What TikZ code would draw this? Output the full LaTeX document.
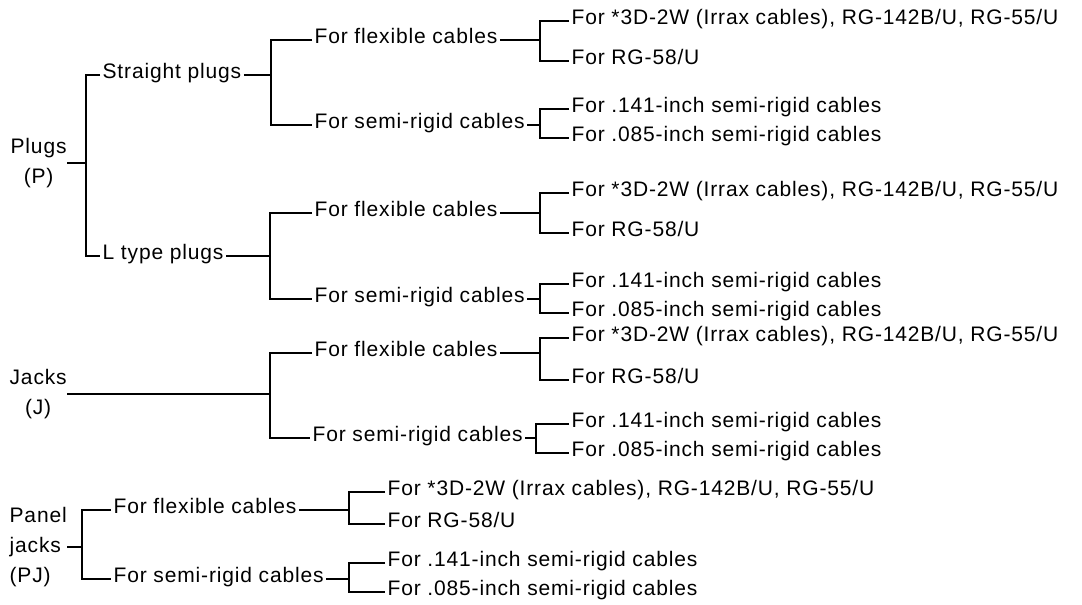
\documentclass[tikz,border=0pt]{standalone}
\usepackage{fontspec}
\setmainfont[LetterSpace=4]{Liberation Sans}

\begin{document}
\begin{tikzpicture}[x=1pt,y=-1pt,line width=1.3pt,
    every node/.style={font=\fontsize{21}{30}\selectfont},
    lbl/.style={anchor=west,inner xsep=2pt,inner ysep=0pt,text height=.72em,text depth=0pt},
    grp/.style={anchor=west,inner sep=0pt}]
          \useasboundingbox (0,0) rectangle (1082,605);

          \coordinate (xP) at (86,0);
          \coordinate (xSP) at (271,0);
          \coordinate (xLP) at (270,0);
          \coordinate (xJ) at (270,0);
          \coordinate (xPJ) at (82,0);
          \coordinate (xLeaf) at (540,0);
          \coordinate (xJs) at (536,0);
          \coordinate (xPJLeaf) at (349,0);

          \node[grp,align=center] (P) at (10,163) {Plugs\\(P)};
          \node[lbl] (SP) at (100,75) {Straight plugs};
          \node[lbl] (LP) at (100,256) {L type plugs};

          \node[lbl] (SPf) at (312,40) {For flexible cables};
          \node[lbl] (SPs) at (312,125) {For semi-rigid cables};
          \node[lbl] (LPf) at (312,213) {For flexible cables};
          \node[lbl] (LPs) at (312,299) {For semi-rigid cables};

          \node[lbl] (SPf1) at (569,21) {For *3D-2W (Irrax cables), RG-142B/U, RG-55/U};
          \node[lbl] (SPf2) at (569,61) {For RG-58/U};
          \node[lbl] (SPs1) at (569,109) {For .141-inch semi-rigid cables};
          \node[lbl] (SPs2) at (569,138) {For .085-inch semi-rigid cables};
          \node[lbl] (LPf1) at (569,193) {For *3D-2W (Irrax cables), RG-142B/U, RG-55/U};
          \node[lbl] (LPf2) at (569,233) {For RG-58/U};
          \node[lbl] (LPs1) at (569,284) {For .141-inch semi-rigid cables};
          \node[lbl] (LPs2) at (569,313) {For .085-inch semi-rigid cables};

          \node[grp,align=center] (J) at (9,394) {Jacks\\(J)};
          \node[lbl] (Jf) at (312,353) {For flexible cables};
          \node[lbl] (Js) at (310,438) {For semi-rigid cables};
          \node[lbl] (Jf1) at (569,338) {For *3D-2W (Irrax cables), RG-142B/U, RG-55/U};
          \node[lbl] (Jf2) at (569,380) {For RG-58/U};
          \node[lbl] (Js1) at (569,424) {For .141-inch semi-rigid cables};
          \node[lbl] (Js2) at (569,453) {For .085-inch semi-rigid cables};

          \node[grp,align=left] (PJ) at (9,547) {Panel\\jacks\\(PJ)};
          \node[lbl] (PJf) at (111,510) {For flexible cables};
          \node[lbl] (PJs) at (111,579) {For semi-rigid cables};
          \node[lbl] (PJf1) at (385,492) {For *3D-2W (Irrax cables), RG-142B/U, RG-55/U};
          \node[lbl] (PJf2) at (385,524) {For RG-58/U};
          \node[lbl] (PJs1) at (385,563) {For .141-inch semi-rigid cables};
          \node[lbl] (PJs2) at (385,592) {For .085-inch semi-rigid cables};

          \draw (P.east) -- (P.east -| xP);
          \draw (SP.west) -- (SP.west -| xP) -- (LP.west -| xP) -- (LP.west);
          \draw (SP.east) -- (SP.east -| xSP);
          \draw (SPf.west) -- (SPf.west -| xSP) -- (SPs.west -| xSP) -- (SPs.west);
          \draw (LP.east) -- (LP.east -| xLP);
          \draw (LPf.west) -- (LPf.west -| xLP) -- (LPs.west -| xLP) -- (LPs.west);

          \draw (SPf.east) -- (SPf.east -| xLeaf);
          \draw (SPf1.west) -- (SPf1.west -| xLeaf) -- (SPf2.west -| xLeaf) -- (SPf2.west);
          \draw (SPs.east) -- (SPs.east -| xLeaf);
          \draw (SPs1.west) -- (SPs1.west -| xLeaf) -- (SPs2.west -| xLeaf) -- (SPs2.west);
          \draw (LPf.east) -- (LPf.east -| xLeaf);
          \draw (LPf1.west) -- (LPf1.west -| xLeaf) -- (LPf2.west -| xLeaf) -- (LPf2.west);
          \draw (LPs.east) -- (LPs.east -| xLeaf);
          \draw (LPs1.west) -- (LPs1.west -| xLeaf) -- (LPs2.west -| xLeaf) -- (LPs2.west);

          \draw (J.east) -- (J.east -| xJ);
          \draw (Jf.west) -- (Jf.west -| xJ) -- (Js.west -| xJ) -- (Js.west);
          \draw (Jf.east) -- (Jf.east -| xLeaf);
          \draw (Jf1.west) -- (Jf1.west -| xLeaf) -- (Jf2.west -| xLeaf) -- (Jf2.west);
          \draw (Js.east) -- (Js.east -| xJs);
          \draw (Js1.west) -- (Js1.west -| xJs) -- (Js2.west -| xJs) -- (Js2.west);

          \draw (PJ.east) -- (PJ.east -| xPJ);
          \draw (PJf.west) -- (PJf.west -| xPJ) -- (PJs.west -| xPJ) -- (PJs.west);
          \draw (PJf.east) -- (PJf.east -| xPJLeaf);
          \draw (PJf1.west) -- (PJf1.west -| xPJLeaf) -- (PJf2.west -| xPJLeaf) -- (PJf2.west);
          \draw (PJs.east) -- (PJs.east -| xPJLeaf);
          \draw (PJs1.west) -- (PJs1.west -| xPJLeaf) -- (PJs2.west -| xPJLeaf) -- (PJs2.west);
        \end{tikzpicture}
\end{document}
